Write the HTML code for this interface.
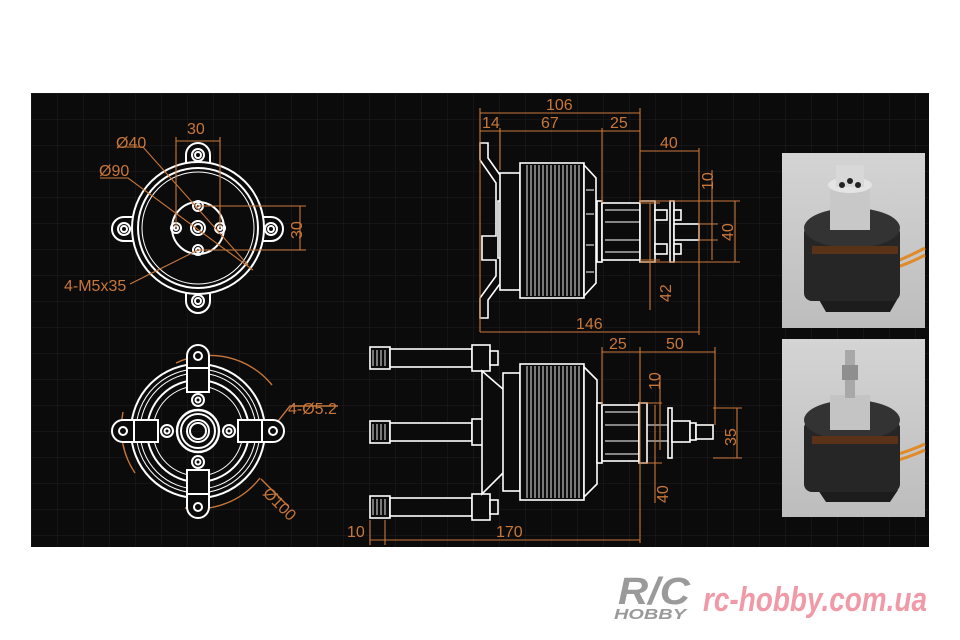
<!DOCTYPE html>
<html><head><meta charset="utf-8"><style>
html,body{margin:0;padding:0;background:#fff;width:960px;height:640px;overflow:hidden}
svg{display:block}
</style></head><body>
<svg width="960" height="640" viewBox="0 0 960 640" xmlns="http://www.w3.org/2000/svg" font-family="Liberation Sans, DejaVu Sans, sans-serif">
<defs>
<pattern id="g" x="31" y="93" width="26" height="26" patternUnits="userSpaceOnUse">
<path d="M0 0H26M0 0V26" stroke="#1f1d1d" stroke-width="1" fill="none"/>
</pattern>
<linearGradient id="ph" x1="0" y1="0" x2="0" y2="1"><stop offset="0" stop-color="#d4d4d4"/><stop offset="1" stop-color="#bdbdbd"/></linearGradient>
</defs>
<rect x="31" y="93" width="898" height="454" fill="#0c0b0b"/>
<rect x="31" y="93" width="898" height="454" fill="url(#g)"/>

<!-- ===== Top front view ===== -->
<g stroke="#fff" fill="none" stroke-width="2">
<g fill="#0c0b0b">
<path d="M186 170V155 A12 12 0 0 1 210 155V170Z"/>
<path d="M186 286V301 A12 12 0 0 0 210 301V286Z"/>
<path d="M140 217H124 A12 12 0 0 0 124 241H140Z"/>
<path d="M256 217H271 A12 12 0 0 1 271 241H256Z"/>
</g>
<circle cx="198" cy="228" r="66" fill="#0c0b0b"/>
<circle cx="198" cy="228" r="60"/>
<circle cx="198" cy="228" r="56" stroke-width="1"/>
<circle cx="198" cy="228" r="26"/>
<circle cx="198" cy="228" r="7"/><circle cx="198" cy="228" r="4"/>
<circle cx="198" cy="206" r="5"/><circle cx="198" cy="206" r="2"/>
<circle cx="198" cy="250" r="5"/><circle cx="198" cy="250" r="2"/>
<circle cx="176" cy="228" r="5"/><circle cx="176" cy="228" r="2"/>
<circle cx="220" cy="228" r="5"/><circle cx="220" cy="228" r="2"/>
<circle cx="198" cy="155" r="6"/><circle cx="198" cy="155" r="3"/>
<circle cx="198" cy="301" r="6"/><circle cx="198" cy="301" r="3"/>
<circle cx="124" cy="229" r="6"/><circle cx="124" cy="229" r="3"/>
<circle cx="271" cy="229" r="6"/><circle cx="271" cy="229" r="3"/>
</g>
<g stroke="#c8773a" fill="none" stroke-width="1.1">
<path d="M176 137V228M220 137V228M176 141H220"/>
<path d="M198 206H306M198 250H306M300 206V250"/>
<path d="M117 147H143L248 265"/>
<path d="M100 178H128L253 270"/>
<path d="M130 284L198 250"/>
</g>
<g fill="#c8773a" font-size="16">
<text x="187" y="134">30</text>
<text x="116" y="148">Ø40</text>
<text x="99" y="176">Ø90</text>
<text x="64" y="291">4-M5x35</text>
<text transform="translate(302,239) rotate(-90)">30</text>
</g>

<!-- ===== Bottom front view ===== -->
<g stroke="#c8773a" fill="none" stroke-width="1.4">
<path d="M176 363 A80 80 0 0 1 272 385"/>
<path d="M123 412 A80 80 0 0 0 135 473"/>
<path d="M185 508 A80 80 0 0 0 260 478"/>
<path d="M271 430L290 406H338M261 479L288 506"/>
</g>
<g stroke="#fff" fill="none" stroke-width="2">
<circle cx="198" cy="431" r="67"/>
<circle cx="198" cy="431" r="62" stroke-width="1"/>
<circle cx="198" cy="431" r="58" stroke-width="1"/>
<circle cx="198" cy="431" r="51"/>
<circle cx="198" cy="431" r="45" stroke-width="1"/>
<g fill="#0c0b0b">
<path d="M187 368V356 A11 11 0 0 1 209 356V368Z"/>
<rect x="187" y="368" width="22" height="24"/>
<path d="M187 494V507 A11 11 0 0 0 209 507V494Z"/>
<rect x="187" y="470" width="22" height="24"/>
<path d="M134 420H123 A11 11 0 0 0 123 442H134Z"/>
<rect x="134" y="420" width="24" height="22"/>
<path d="M262 420H273 A11 11 0 0 1 273 442H262Z"/>
<rect x="238" y="420" width="24" height="22"/>
</g>
<circle cx="198" cy="356" r="4"/><circle cx="198" cy="507" r="4"/>
<circle cx="123" cy="431" r="4"/><circle cx="273" cy="431" r="4"/>
<circle cx="198" cy="431" r="21" stroke-width="2.4"/>
<circle cx="198" cy="431" r="17"/>
<circle cx="198" cy="431" r="11"/><circle cx="198" cy="431" r="8"/>
<circle cx="198" cy="400" r="6"/><circle cx="198" cy="400" r="2.5"/>
<circle cx="198" cy="462" r="6"/><circle cx="198" cy="462" r="2.5"/>
<circle cx="167" cy="431" r="6"/><circle cx="167" cy="431" r="2.5"/>
<circle cx="229" cy="431" r="6"/><circle cx="229" cy="431" r="2.5"/>
</g>
<g fill="#c8773a" font-size="16">
<text x="288" y="414">4-Ø5.2</text>
<text transform="translate(262,494) rotate(45)">Ø100</text>
</g>

<!-- ===== Top side view ===== -->
<g stroke="#fff" fill="#0c0b0b" stroke-width="1.6">
<path d="M480 143H488V158L505 182V201H498V258H505V277L488 300V318H480V298L496 276V260H482V236H496V183L480 160Z"/>
<rect x="500" y="173" width="20" height="117"/>
<rect x="520" y="163" width="64" height="135"/>
<path d="M584 165L596 178V283L584 296Z"/>
<rect x="597" y="201" width="5" height="61"/>
<rect x="602" y="203" width="38" height="57"/>
<rect x="640" y="201" width="15" height="61"/>
<rect x="655" y="210" width="12" height="10"/><rect x="655" y="244" width="12" height="10"/>
<rect x="670" y="201" width="4" height="61"/>
<rect x="674" y="210" width="7" height="10"/><rect x="674" y="244" width="7" height="10"/>
<rect x="674" y="224" width="25" height="16"/>
</g>
<g stroke="#fff" stroke-width="0.9">
<path d="M527 165V296M531 165V296M535 165V296M539 165V296M543 165V296M547 165V296M551 165V296M555 165V296M559 165V296M563 165V296M567 165V296M571 165V296M575 165V296M579 165V296"/>
<path d="M605 210H640M605 222H640M605 240H640M605 252H640M586 190H594M586 214H594M586 245H594M586 272H594"/>
</g>
<g stroke="#c8773a" fill="none" stroke-width="1.1">
<path d="M480 108V332M640 108V203M480 113H640"/>
<path d="M500 128V170M602 128V203M480 131H640"/>
<path d="M699 148V335M640 151H699"/>
<path d="M640 201H740M640 262H740M735 201V262"/>
<path d="M699 224H718M699 240H718M712 170V260"/>
<path d="M650 203V310M640 203H660M640 260H660"/>
<path d="M480 332H699"/>
</g>
<g fill="#c8773a" font-size="16">
<text x="546" y="110">106</text>
<text x="482" y="128">14</text>
<text x="541" y="128">67</text>
<text x="610" y="128">25</text>
<text x="660" y="148">40</text>
<text transform="translate(713,190) rotate(-90)">10</text>
<text transform="translate(733,241) rotate(-90)">40</text>
<text transform="translate(671,302) rotate(-90)">42</text>
<text x="576" y="329">146</text>
</g>

<!-- ===== Bottom side view ===== -->
<g stroke="#fff" fill="#0c0b0b" stroke-width="1.6">
<g id="so">
<rect x="370" y="347" width="20" height="22"/>
<rect x="390" y="349" width="82" height="18"/>
<rect x="472" y="345" width="18" height="26"/>
<rect x="490" y="351" width="8" height="14"/>
</g>
<use href="#so" y="74"/><use href="#so" y="149"/>
<path d="M482 371L504 390V472L482 494Z"/>
<rect x="503" y="373" width="17" height="118"/>
<rect x="520" y="364" width="64" height="136"/>
<path d="M584 367L597 380V484L584 497Z"/>
<rect x="597" y="403" width="5" height="60"/>
<rect x="602" y="405" width="37" height="56"/>
<rect x="639" y="403" width="8" height="60"/>
<rect x="668" y="408" width="4" height="50"/>
<rect x="672" y="421" width="18" height="21"/>
<rect x="690" y="423" width="6" height="17"/>
<rect x="696" y="425" width="17" height="14"/>
</g>
<g stroke="#fff" stroke-width="0.9">
<path d="M373 350V366M377 350V366M381 350V366M385 350V366M373 424V440M377 424V440M381 424V440M385 424V440M373 499V515M377 499V515M381 499V515M385 499V515"/>
<path d="M527 366V498M531 366V498M535 366V498M539 366V498M543 366V498M547 366V498M551 366V498M555 366V498M559 366V498M563 366V498M567 366V498M571 366V498M575 366V498M579 366V498"/>
<path d="M605 412H639M605 425H639M605 441H639M605 454H639M647 425H668M647 441H668"/>
</g>
<g stroke="#c8773a" fill="none" stroke-width="1.1">
<path d="M602 347V405M640 347V543M715 347V425M602 352H715"/>
<path d="M370 520V545M385 520V545M370 540H640"/>
<path d="M713 408H742M713 458H742M737 408V458"/>
<path d="M660 375V450M655 405V503M640 403H662M640 463H662"/>
</g>
<g fill="#c8773a" font-size="16">
<text x="609" y="349">25</text>
<text x="666" y="349">50</text>
<text x="347" y="537">10</text>
<text x="496" y="537">170</text>
<text transform="translate(660,390) rotate(-90)">10</text>
<text transform="translate(736,446) rotate(-90)">35</text>
<text transform="translate(668,503) rotate(-90)">40</text>
</g>

<!-- ===== Photos ===== -->
<rect x="782" y="153" width="143" height="175" fill="url(#ph)"/>
<rect x="782" y="339" width="143" height="178" fill="url(#ph)"/>
<g>
<path d="M895 262 Q912 255 925 248 M895 268 Q912 262 925 255" stroke="#e08a2a" stroke-width="3" fill="none"/>
<path d="M818 298L833 288H882L898 298L890 312H826Z" fill="#1c1c1c"/>
<rect x="804" y="225" width="96" height="76" rx="8" fill="#262626"/>
<ellipse cx="852" cy="228" rx="48" ry="20" fill="#333"/>
<rect x="830" y="185" width="40" height="45" fill="#c8c8c8"/>
<ellipse cx="850" cy="185" rx="22" ry="8" fill="#e4e4e4"/>
<rect x="836" y="165" width="28" height="22" fill="#d8d8d8"/>
<circle cx="842" cy="185" r="3" fill="#222"/><circle cx="858" cy="185" r="3" fill="#222"/>
<circle cx="850" cy="181" r="3" fill="#222"/>
<path d="M812 250H898" stroke="#5a3218" stroke-width="8"/>
</g>
<g>
<path d="M895 455 Q912 450 925 444 M895 461 Q912 456 925 450" stroke="#e08a2a" stroke-width="3" fill="none"/>
<path d="M818 490L833 480H882L898 490L890 502H826Z" fill="#1c1c1c"/>
<rect x="804" y="420" width="96" height="72" rx="8" fill="#262626"/>
<ellipse cx="852" cy="420" rx="48" ry="20" fill="#333"/>
<rect x="830" y="395" width="40" height="35" fill="#c4c4c4"/>
<rect x="845" y="350" width="10" height="48" fill="#a8a8a8"/>
<rect x="842" y="365" width="16" height="15" fill="#8e8e8e"/>
<path d="M812 440H898" stroke="#5a3218" stroke-width="8"/>
</g>

<!-- ===== Logo ===== -->
<g font-weight="bold" font-style="italic">
<text x="618" y="604" font-size="38" fill="#9a9a9a" textLength="72" lengthAdjust="spacingAndGlyphs">R/C</text>
<text x="614" y="619" font-size="15" fill="#9a9a9a" textLength="72" lengthAdjust="spacingAndGlyphs">HOBBY</text>
<text x="703" y="611" font-size="34" fill="#f09aa8" textLength="224" lengthAdjust="spacingAndGlyphs">rc-hobby.com.ua</text>
</g>
</svg>
</body></html>
